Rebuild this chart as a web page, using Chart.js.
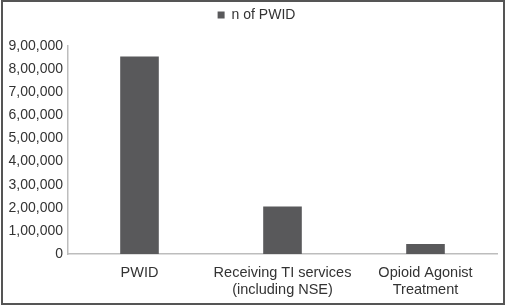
<!DOCTYPE html>
<html>
<head>
<meta charset="utf-8">
<script src="https://cdn.jsdelivr.net/npm/chart.js@4"></script>
<style>
  html, body { margin: 0; padding: 0; background: #fff; }
  #wrap { position: relative; width: 505px; height: 306px; }
</style>
</head>
<body>
<div id="wrap"><canvas id="pwid"></canvas></div>
<script>
const kategori = [["PWID"], ["Receiving TI services", "(including NSE)"], ["Opioid Agonist", "Treatment"]];
const nilai = [855000, 206000, 43000];
const labelSeri = "n of PWID";
const yMax = 900000;
const yStep = 100000;

// format angka gaya India: 9,00,000
function formatIndia(n) {
  const s = String(Math.round(n));
  if (s.length <= 3) return s;
  const akhir = s.slice(-3);
  let depan = s.slice(0, -3);
  const bagian = [];
  while (depan.length > 2) {
    bagian.unshift(depan.slice(-2));
    depan = depan.slice(0, -2);
  }
  if (depan) bagian.unshift(depan);
  return bagian.join(",") + "," + akhir;
}

const bingkai = {
  id: "bingkai",
  afterInit(chart) {
    const legend = chart.legend;
    // beri jarak tambahan di bawah legend
    const fitAsli = legend.fit;
    legend.fit = function () {
      fitAsli.call(this);
      this.height += 14;
    };
    // geser legend sedikit ke kanan
    const drawAsli = legend.draw;
    legend.draw = function () {
      const ctx = this.ctx;
      ctx.save();
      ctx.translate(8, 0);
      drawAsli.call(this);
      ctx.restore();
    };
  },
  afterDraw(chart) {
    const ctx = chart.ctx;
    ctx.save();
    ctx.strokeStyle = "#555";
    ctx.lineWidth = 2;
    ctx.strokeRect(2, 1, chart.width - 3, chart.height - 3);
    ctx.restore();
  },
};

Chart.defaults.font.family = "'Liberation Sans', Arial, sans-serif";
Chart.defaults.font.size = 14;
Chart.defaults.color = "#333";

const pwidChart = new Chart(document.getElementById("pwid"), {
  type: "bar",
  data: {
    labels: kategori,
    datasets: [
      {
        label: labelSeri,
        data: nilai,
        backgroundColor: "#59595b",
        borderWidth: 0,
        barPercentage: 0.54,
        categoryPercentage: 0.5,
      },
    ],
  },
  options: {
    responsive: true,
    maintainAspectRatio: false,
    animation: false,
    layout: { padding: { top: 0, right: 8, bottom: 0, left: 0 } },
    plugins: {
      legend: {
        display: true,
        position: "top",
        labels: { boxWidth: 7, boxHeight: 7, padding: 8, color: "#333" },
      },
      tooltip: { enabled: false },
    },
    scales: {
      x: {
        grid: { display: false, drawTicks: false },
        border: { display: true, color: "#bdbdbd", width: 1.5 },
        ticks: { padding: 10, color: "#333", maxRotation: 0, font: { size: 14.5 } },
        afterFit(scale) { scale.height = 52; },
      },
      y: {
        min: 0,
        max: yMax,
        grid: { display: false, drawTicks: false },
        border: { display: true, color: "#bdbdbd", width: 1.5 },
        ticks: {
          stepSize: yStep,
          autoSkip: false,
          padding: 5,
          color: "#333",
          callback: (v) => formatIndia(v),
        },
        afterFit(scale) { scale.width = 68; },
      },
    },
  },
  plugins: [bingkai],
});
</script>
</body>
</html>
